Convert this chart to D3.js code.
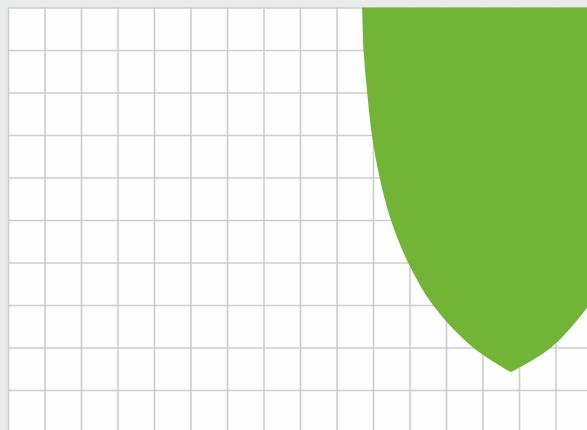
<!DOCTYPE html>
<html>
<head>
<meta charset="utf-8">
<script src="https://cdn.jsdelivr.net/npm/d3@7"></script>
<style>
  html, body { margin: 0; padding: 0; background: #e9ebea; }
  svg { display: block; }
</style>
</head>
<body>
<svg id="chart" width="587" height="430"></svg>
<script>
// grid ticks (data units)
const xTicks = d3.range(0, 17)
const yTicks = d3.range(0, 11)

// outline of the green shape
// left edge from top down to the tip
const leftX = [9.66, 9.70, 9.74, 9.84, 9.97, 10.18, 10.49, 10.96, 11.64, 12.74, 13.78]
const leftY = [10.6, 10.0, 9.0, 8.0, 7.0, 6.0, 5.0, 4.0, 3.0, 2.0, 1.42]
// right edge from the tip back up (mostly outside the frame)
const rightX = [13.78, 14.88, 15.92, 16.60, 17.07, 17.38, 17.59, 17.72, 17.82, 17.86, 17.90]
const rightY = [1.42, 2.0, 3.0, 4.0, 5.0, 6.0, 7.0, 8.0, 9.0, 10.0, 10.6]

const plot = { left: 8, top: 7.5, width: 584, height: 425 }

const x = d3.scaleLinear().domain([0, 16]).range([plot.left, plot.left + plot.width])
const y = d3.scaleLinear().domain([0, 10]).range([plot.top + plot.height, plot.top])

const svg = d3.select('#chart')

svg.append('clipPath').attr('id', 'plotclip')
  .append('rect')
  .attr('x', plot.left).attr('y', plot.top)
  .attr('width', plot.width).attr('height', plot.height)

svg.append('rect')
  .attr('x', plot.left).attr('y', plot.top)
  .attr('width', plot.width).attr('height', plot.height)
  .attr('fill', '#fefefe')

// vertical grid
svg.append('g')
  .attr('transform', `translate(0,${plot.top + plot.height})`)
  .call(d3.axisBottom(x).tickValues(xTicks).tickSize(-plot.height).tickFormat(''))
  .call(g => g.select('.domain').remove())
  .call(g => g.selectAll('line').attr('stroke', '#cdcdcd').attr('stroke-width', 1.6))

// horizontal grid
svg.append('g')
  .attr('transform', `translate(${plot.left},0)`)
  .call(d3.axisLeft(y).tickValues(yTicks).tickSize(-plot.width).tickFormat(''))
  .call(g => g.select('.domain').remove())
  .call(g => g.selectAll('line').attr('stroke', '#cdcdcd').attr('stroke-width', 1.6))

// shape: two smooth edges meeting in a sharp tip
const line = d3.line()
  .x(d => x(d[0]))
  .y(d => y(d[1]))
  .curve(d3.curveCatmullRom.alpha(0.5))

const leftPts = leftX.map((v, i) => [v, leftY[i]])
const rightPts = rightX.map((v, i) => [v, rightY[i]])
const shapePath = line(leftPts) + line(rightPts).replace(/^M/, 'L') + 'Z'

svg.append('g')
  .attr('clip-path', 'url(#plotclip)')
  .append('path')
  .attr('d', shapePath)
  .attr('fill', '#72b536')
</script>
</body>
</html>
